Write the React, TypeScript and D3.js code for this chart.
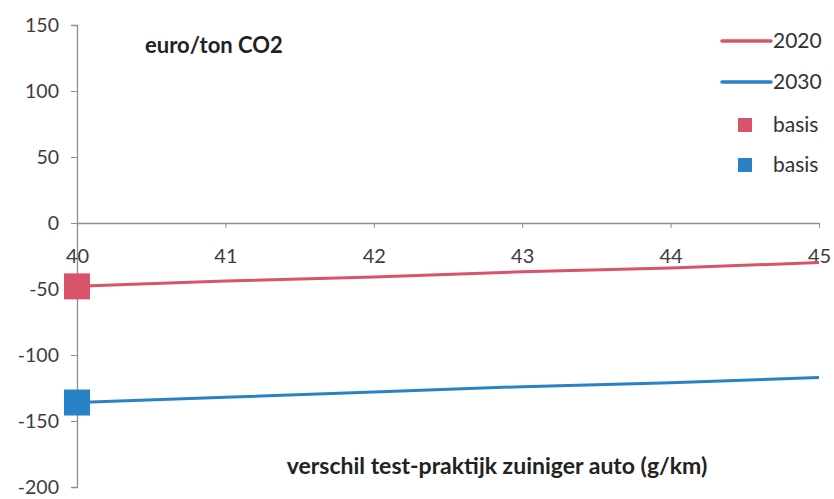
import React, { useEffect, useRef } from "react";
import * as d3 from "d3";

const xValues = [40, 41, 42, 43, 44, 45];
const values2020 = [-48, -44, -41, -37, -34, -30];
const values2030 = [-136, -132, -128, -124, -121, -117];
const yTicks = [150, 100, 50, 0, -50, -100, -150, -200];
const seriesNames = ["2020", "2030"];
const basisNames = ["basis", "basis"];

const RED = "#d9536b";
const BLUE = "#2a82c6";
const FONT = "Lato, 'Open Sans', sans-serif";

const App = () => {
  const ref = useRef<SVGSVGElement>(null);

  useEffect(() => {
    drawChart();
  }, []);

  const drawChart = () => {
    const svg = d3.select(ref.current);
    svg.selectAll("*").remove();

    const x = d3.scaleLinear().domain([40, 45]).range([77, 819]);
    const y = d3.scaleLinear().domain([-200, 150]).range([487, 25]);
    const fmt = (d: d3.NumberValue) => String(d); // plain hyphen minus like the original

    // y axis
    const yAxis = svg.append("g").attr("transform", "translate(" + x(40) + ",0)")
      .call(d3.axisLeft(y).tickValues(yTicks).tickSize(6).tickPadding(12).tickFormat(fmt));
    yAxis.select(".domain").attr("stroke", "#8a8f94").attr("stroke-width", 1.3);
    yAxis.selectAll(".tick line").attr("stroke", "#8a8f94");
    yAxis.selectAll("text").attr("font-size", 19.5).attr("font-family", FONT).attr("fill", "#3c3c3c");

    // x axis at zero
    const xAxis = svg.append("g").attr("transform", "translate(0," + y(0) + ")")
      .call(d3.axisBottom(x).tickValues(xValues).tickSize(5).tickPadding(21).tickSizeOuter(0).tickFormat(fmt));
    xAxis.select(".domain").attr("stroke", "#8a8f94").attr("stroke-width", 1.3);
    xAxis.selectAll(".tick line").attr("stroke", "#8a8f94");
    xAxis.selectAll("text").attr("font-size", 20).attr("font-family", FONT).attr("fill", "#3c3c3c");

    const line = d3.line<number>()
      .x((d, i) => x(xValues[i]))
      .y((d) => y(d));

    svg.append("path").datum(values2020).attr("d", line)
      .attr("fill", "none").attr("stroke", RED).attr("stroke-width", 3);
    svg.append("path").datum(values2030).attr("d", line)
      .attr("fill", "none").attr("stroke", BLUE).attr("stroke-width", 3);

    // basis markers
    const sq = 26;
    [[values2020[0], RED], [values2030[0], BLUE]].forEach(([v, c]) => {
      svg.append("rect")
        .attr("x", x(xValues[0]) - sq / 2)
        .attr("y", y(v as number) - sq / 2)
        .attr("width", sq).attr("height", sq)
        .attr("fill", c as string);
    });

    // titles
    svg.append("text").attr("x", 145).attr("y", 53)
      .attr("font-family", FONT).attr("font-weight", "bold").attr("font-size", 22)
      .attr("fill", "#222").text("euro/ton CO2");
    svg.append("text").attr("x", 497).attr("y", 474).attr("text-anchor", "middle")
      .attr("font-family", FONT).attr("font-weight", "bold").attr("font-size", 23)
      .attr("fill", "#222").text("verschil test-praktijk zuiniger auto (g/km)");

    // legend
    const colors = [RED, BLUE];
    seriesNames.forEach((name, i) => {
      const ly = 41 + i * 41;
      svg.append("line").attr("x1", 722).attr("x2", 771).attr("y1", ly).attr("y2", ly)
        .attr("stroke", colors[i]).attr("stroke-width", 3.5).attr("stroke-linecap", "round");
      svg.append("text").attr("x", 773).attr("y", ly + 7)
        .attr("font-family", FONT).attr("font-size", 21).attr("fill", "#333").text(name);
    });
    basisNames.forEach((name, i) => {
      const ly = 125 + i * 40;
      svg.append("rect").attr("x", 738).attr("y", ly - 7).attr("width", 14).attr("height", 14)
        .attr("fill", colors[i]);
      svg.append("text").attr("x", 773).attr("y", ly + 7)
        .attr("font-family", FONT).attr("font-size", 21).attr("fill", "#333").text(name);
    });
  };

  return (
    <div>
      <svg ref={ref} width={834} height={499}
        style={{ position: "fixed", left: 0, top: 0, display: "block", background: "#fff" }} />
    </div>
  );
};

export default App;
